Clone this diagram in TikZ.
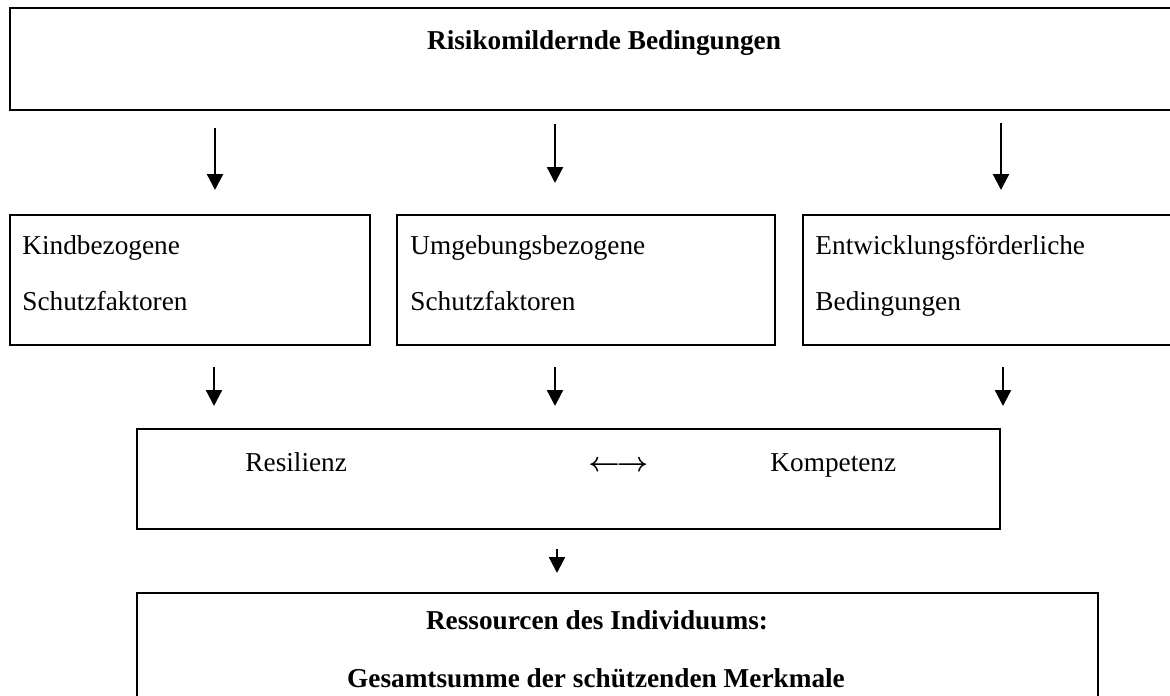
\documentclass[tikz,border=0pt]{standalone}
\usepackage{amsmath}
\usepackage{fontspec}
\setmainfont{Liberation Serif}
\usetikzlibrary{arrows.meta}
\tikzset{
  box/.style={draw, line width=0.9pt},
  arr/.style={line width=1pt, -{Triangle[length=7pt,width=7pt]}},
  lbl/.style={anchor=base west, inner sep=0pt, font=\fontsize{12}{14}\selectfont},
  hdr/.style={anchor=base, inner sep=0pt, font=\fontsize{12}{14}\selectfont\bfseries}
}
\begin{document}
\begin{tikzpicture}[x=0.44pt, y=-0.44pt]
  \clip (0,0) rectangle (1170,695);

  % Top box
  \draw[box] (10,8) rectangle (1190,110);
  \node[hdr] (risk) at (604,49) {Risikomildernde Bedingungen};

  % Arrows down to the three factor boxes
  \foreach \x/\a/\b [count=\i] in {215/128/190, 555/124/183, 1001/123/190} {
    \coordinate (up\i) at (\x,\a);
    \coordinate (dn\i) at (\x,\b);
    \draw[arr] (up\i) -- (dn\i);
  }

  % Three factor boxes
  \draw[box] (10,215) rectangle (370,345);
  \draw[box] (397,215) rectangle (775,345);
  \draw[box] (803,215) rectangle (1190,345);
  \node[lbl] (kind1) at (22,254) {Kindbezogene};
  \node[lbl] (kind2) at (22,310) {Schutzfaktoren};
  \node[lbl] (umg1) at (410,254) {Umgebungsbezogene};
  \node[lbl] (umg2) at (410,310) {Schutzfaktoren};
  \node[lbl] (entw1) at (815,254) {Entwicklungsförderliche};
  \node[lbl] (entw2) at (815,310) {Bedingungen};

  % Arrows down to the middle box
  \foreach \x [count=\i] in {214,555,1003} {
    \coordinate (fs\i) at (\x,367);
    \coordinate (fe\i) at (\x,406);
    \draw[arr] (fs\i) -- (fe\i);
  }

  % Resilienz / Kompetenz
  \draw[box] (137,429) rectangle (1000,529);
  \node[lbl] (res) at (245,471) {Resilienz};
  \node[lbl] (lr) at (588,471) {$\boldsymbol{\leftarrow}\mkern-2mu\boldsymbol{\rightarrow}$};
  \node[lbl] (komp) at (770,471) {Kompetenz};

  % Last arrow
  \coordinate (ls) at (557,549);
  \coordinate (le) at (557,573);
  \draw[arr] (ls) -- (le);

  % Bottom box
  \draw[box] (137,593) rectangle (1098,720);
  \node[hdr] (ress) at (597,629) {Ressourcen des Individuums:};
  \node[hdr] (ges) at (596,687) {Gesamtsumme der schützenden Merkmale};
\end{tikzpicture}
\end{document}
